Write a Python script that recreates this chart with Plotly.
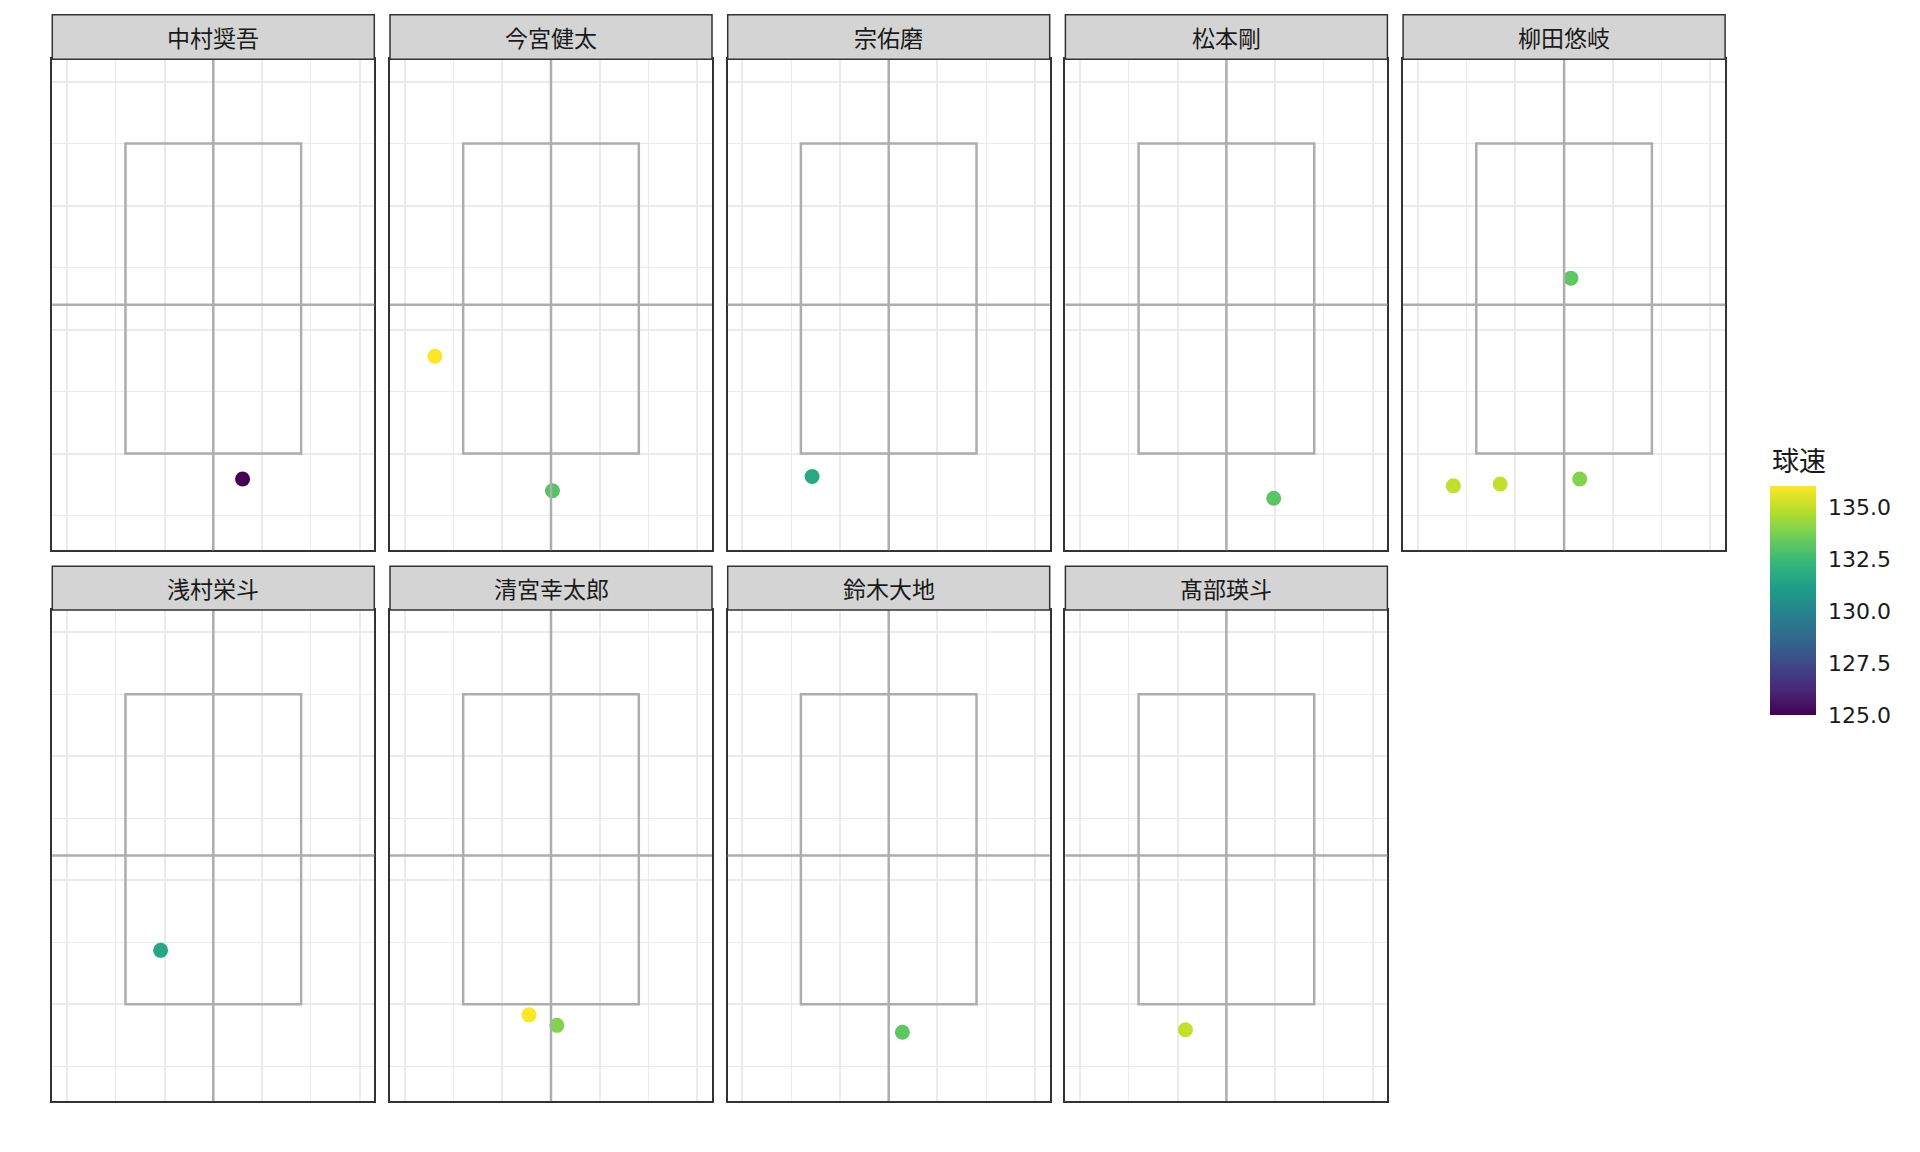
import plotly.graph_objects as go

# ---------------- data ----------------
players = ["中村奨吾", "今宮健太", "宗佑磨", "松本剛", "柳田悠岐",
           "浅村栄斗", "清宮幸太郎", "鈴木大地", "髙部瑛斗"]

pitch_x = [
    [0.60],
    [-2.38, 0.03],
    [-1.57],
    [0.97],
    [0.14, -2.27, -1.31, 0.32],
    [-1.08],
    [-0.45, 0.12],
    [0.28],
    [-0.84],
]
pitch_y = [
    [0.59],
    [2.57, 0.40],
    [0.63],
    [0.28],
    [3.83, 0.48, 0.51, 0.59],
    [1.87],
    [0.83, 0.66],
    [0.55],
    [0.59],
]
speed = [
    [125.0],
    [136.0, 133.0],
    [131.6],
    [133.1],
    [133.2, 135.0, 135.0, 133.9],
    [131.5],
    [136.0, 133.9],
    [133.2],
    [135.0],
]

zone_x = [-1.8, 1.8]
zone_y = [1.0, 6.0]
x_range = [-3.3, 3.3]
y_range = [-0.56, 7.36]
center_x = 0.0
center_y = 3.4

speed_min = 125.0
speed_max = 136.0
cbar_ticks = [125.0, 127.5, 130.0, 132.5, 135.0]
cbar_labels = ["125.0", "127.5", "130.0", "132.5", "135.0"]

# ---------------- layout geometry (pixels) ----------------
W, H = 1920, 1152
PX0, PW, PITCH = 52.3, 322.0, 337.7
strip_top = [14.7, 566.3]
panel_top = [59.3, 610.0]
panel_h = 491.0

FONT = "Noto Sans CJK JP"
GRID = "#EBEBEB"
REF = "#ADADAD"
BORDER = "#333333"

fig = go.Figure()
layout = dict(
    width=W, height=H,
    margin=dict(l=0, r=0, t=0, b=0),
    paper_bgcolor="white", plot_bgcolor="white",
    showlegend=False,
    font=dict(family=FONT, color="#1A1A1A"),
)
shapes = []
annotations = []

for i, name in enumerate(players):
    r, c = divmod(i, 5)
    k = i + 1
    xs = "" if k == 1 else str(k)
    x0 = PX0 + c * PITCH
    x1 = x0 + PW
    yt = panel_top[r]
    yb = yt + panel_h
    layout["xaxis" + xs] = dict(
        domain=[x0 / W, x1 / W], range=x_range, anchor="y" + xs,
        showticklabels=False, ticks="", zeroline=False,
        tick0=1, dtick=2, showgrid=True, gridcolor=GRID, gridwidth=2.2,
        minor=dict(tick0=0, dtick=1, showgrid=True, gridcolor=GRID, gridwidth=1.1),
        showline=True, mirror=True, linecolor=BORDER, linewidth=1.5,
        fixedrange=True,
    )
    layout["yaxis" + xs] = dict(
        domain=[1 - yb / H, 1 - yt / H], range=y_range, anchor="x" + xs,
        showticklabels=False, ticks="", zeroline=False,
        tick0=1, dtick=2, showgrid=True, gridcolor=GRID, gridwidth=2.2,
        minor=dict(tick0=0, dtick=1, showgrid=True, gridcolor=GRID, gridwidth=1.1),
        showline=True, mirror=True, linecolor=BORDER, linewidth=1.5,
        fixedrange=True,
    )
    fig.add_trace(go.Scatter(
        x=pitch_x[i], y=pitch_y[i], mode="markers",
        xaxis="x" + xs, yaxis="y" + xs,
        marker=dict(size=15, color=speed[i], coloraxis="coloraxis", line=dict(width=0)),
        hoverinfo="skip",
    ))
    xr, yr = "x" + xs, "y" + xs
    # strike zone and centre lines
    shapes.append(dict(type="rect", xref=xr, yref=yr, x0=zone_x[0], x1=zone_x[1],
                       y0=zone_y[0], y1=zone_y[1], line=dict(color=REF, width=2.5),
                       fillcolor="rgba(0,0,0,0)", layer="above"))
    shapes.append(dict(type="line", xref=xr, yref=yr + " domain", x0=center_x, x1=center_x,
                       y0=0, y1=1, line=dict(color=REF, width=2.5), layer="above"))
    shapes.append(dict(type="line", xref=xr + " domain", yref=yr, x0=0, x1=1,
                       y0=center_y, y1=center_y, line=dict(color=REF, width=2.5), layer="above"))
    # strip
    shapes.append(dict(type="rect", xref="paper", yref="paper",
                       x0=x0 / W, x1=x1 / W, y0=1 - yt / H, y1=1 - strip_top[r] / H,
                       fillcolor="#D4D4D4", line=dict(color=BORDER, width=1.5), layer="above"))
    annotations.append(dict(text=name, xref="paper", yref="paper",
                            x=(x0 + x1) / 2 / W, y=1 - (strip_top[r] + yt) / 2 / H,
                            xanchor="center", yanchor="middle", showarrow=False,
                            font=dict(family=FONT, size=23, color="#1A1A1A")))

# colour bar
cb_left, cb_top, cb_bottom, cb_thick = 1770.0, 486.0, 715.0, 46.0
tick_len = 9
layout["coloraxis"] = dict(
    colorscale="Viridis", cmin=speed_min, cmax=speed_max,
    colorbar=dict(
        x=cb_left / W, xanchor="left",
        y=1 - (cb_top + cb_bottom) / 2 / H, yanchor="middle",
        len=cb_bottom - cb_top, lenmode="pixels",
        thickness=cb_thick, thicknessmode="pixels",
        xpad=0, ypad=0, outlinewidth=0,
        tickvals=cbar_ticks, ticktext=cbar_labels,
        ticks="outside", ticklen=8, tickwidth=1, tickcolor="rgba(0,0,0,0)",
        tickfont=dict(family="DejaVu Sans", size=22, color="#1A1A1A"),
    ),
)
# tick marks inside the colour bar on both sides (ggplot style)
cb_top_p, cb_bot_p = 1 - cb_top / H, 1 - cb_bottom / H
for v in cbar_ticks:
    yy = cb_bot_p + (v - speed_min) / (speed_max - speed_min) * (cb_top_p - cb_bot_p)
    for xa, xb in [(cb_left, cb_left + tick_len),
                   (cb_left + cb_thick - tick_len, cb_left + cb_thick)]:
        shapes.append(dict(type="line", xref="paper", yref="paper",
                           x0=xa / W, x1=xb / W, y0=yy, y1=yy,
                           line=dict(color="white", width=1.5), layer="above"))

annotations.append(dict(text="球速", xref="paper", yref="paper",
                        x=cb_left / W, y=1 - 459 / H, xanchor="left", yanchor="middle",
                        showarrow=False, font=dict(family=FONT, size=27, color="#1A1A1A")))

layout["shapes"] = shapes
layout["annotations"] = annotations
fig.update_layout(**layout)
fig.write_html("out.html")
